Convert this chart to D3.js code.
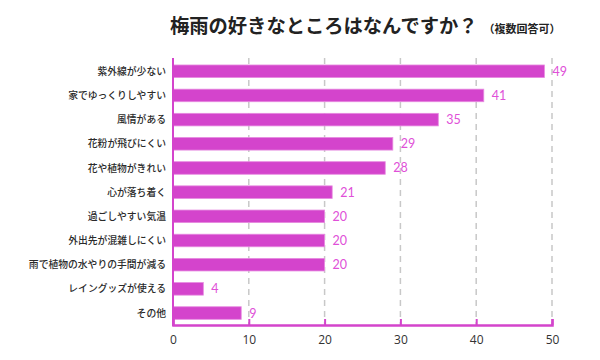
<!DOCTYPE html>
<html><head><meta charset="utf-8">
<script src="https://cdn.jsdelivr.net/npm/d3@7"></script>
<style>body{margin:0;background:#fff;}svg{display:block;}</style>
</head><body>
<script>
const categories = ["紫外線が少ない","家でゆっくりしやすい","風情がある","花粉が飛びにくい","花や植物がきれい","心が落ち着く","過ごしやすい気温","外出先が混雑しにくい","雨で植物の水やりの手間が減る","レイングッズが使える","その他"];
const values = [49,41,35,29,28,21,20,20,20,4,9];
const xTicks = [0,10,20,30,40,50];
const title = "梅雨の好きなところはなんですか？";
const subtitle = "（複数回答可）";

const W=600,H=360;
const svg=d3.select("body").append("svg").attr("width",W).attr("height",H);
const jp='"Noto Sans CJK JP","Noto Sans",sans-serif';
const x=d3.scaleLinear().domain([0,50]).range([173,552]);
const y=d3.scaleBand().domain(categories).range([59.3,325]).paddingInner(0.48).paddingOuter(0.235);
const mag="#d444cc";

// grid
svg.append("g").selectAll("line").data(xTicks.slice(1)).join("line")
 .attr("x1",d=>x(d)).attr("x2",d=>x(d)).attr("y1",58).attr("y2",325)
 .attr("stroke","#c8c8c8").attr("stroke-width",1.5).attr("stroke-dasharray","6,5");

// bars
svg.append("g").selectAll("rect").data(values).join("rect")
 .attr("x",x(0)).attr("y",(d,i)=>y(categories[i]))
 .attr("width",d=>x(d)-x(0)).attr("height",y.bandwidth())
 .attr("fill",mag).attr("stroke","#e78be0").attr("stroke-width",0.8);

// value labels
svg.append("g").selectAll("text").data(values).join("text")
 .attr("x",d=>x(d)+8).attr("y",(d,i)=>y(categories[i])+y.bandwidth()/2)
 .attr("dy","0.36em").attr("fill","#e050d8").attr("font-family","Lato,'Noto Sans',sans-serif")
 .attr("font-size",12.5).text(d=>d);

// category labels
svg.append("g").selectAll("text").data(categories).join("text")
 .attr("x",166).attr("y",d=>y(d)+y.bandwidth()/2).attr("dy","0.36em")
 .attr("text-anchor","end").attr("fill","#2a2a2a").attr("font-family",jp)
 .attr("font-weight",500).attr("font-size",9.8).text(d=>d);

// axes
const xa=svg.append("g").attr("transform","translate(0,325)")
 .call(d3.axisBottom(x).tickValues(xTicks).tickSize(-6).tickPadding(10));
xa.select(".domain").attr("stroke",mag).attr("stroke-width",2.5);
xa.selectAll(".tick line").attr("stroke",mag).attr("stroke-width",2);
xa.selectAll(".tick text").attr("fill","#333").attr("font-size",12).attr("font-family","'Open Sans',sans-serif");
svg.append("line").attr("x1",x(0)).attr("x2",x(0)).attr("y1",58).attr("y2",326)
 .attr("stroke",mag).attr("stroke-width",2);

// title
svg.append("text").attr("x",170).attr("y",33).attr("font-family",jp).attr("font-weight","bold")
 .attr("font-size",19.3).attr("fill","#222").text(title)
 .append("tspan").attr("font-size",11).attr("dx",6).text(subtitle);
</script>
</body></html>
